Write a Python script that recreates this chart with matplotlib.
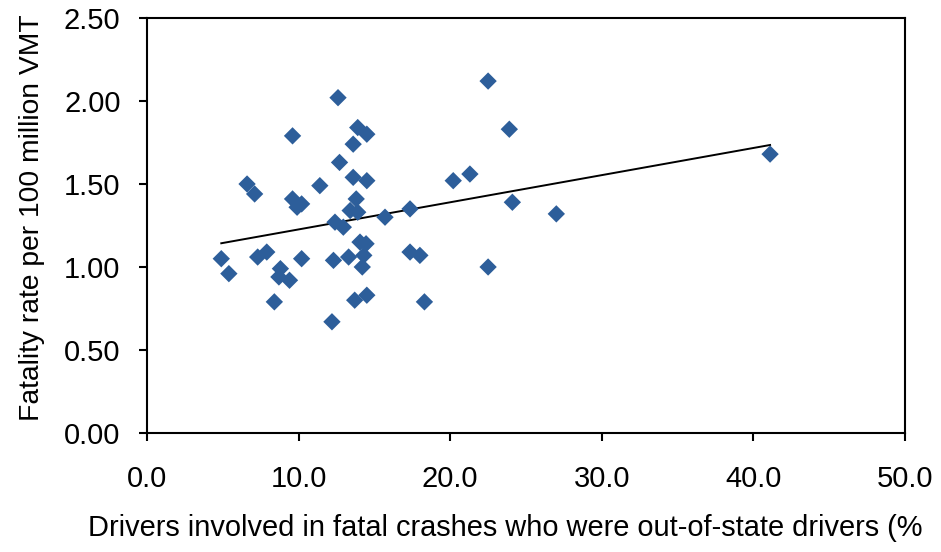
import matplotlib
matplotlib.use("Agg")
import matplotlib.pyplot as plt

# Data
out_of_state_pct = [4.9, 5.4, 6.6, 7.1, 7.3, 7.9, 8.4, 8.7, 8.8, 9.4,
                    9.6, 9.6, 9.9, 10.2, 10.2, 11.4, 12.2, 12.3, 12.4, 12.6,
                    12.7, 12.95, 13.3, 13.4, 13.6, 13.6, 13.7, 13.8, 13.9, 13.9,
                    14.05, 14.2, 14.3, 14.45, 14.5, 14.5, 14.5, 15.7, 17.35, 17.35,
                    18.0, 18.3, 20.2, 21.3, 22.5, 22.5, 23.9, 24.1, 27.0, 41.1]
fatality_rate = [1.05, 0.96, 1.50, 1.44, 1.06, 1.09, 0.79, 0.94, 0.99, 0.92,
                 1.79, 1.41, 1.36, 1.38, 1.05, 1.49, 0.67, 1.04, 1.27, 2.02,
                 1.63, 1.24, 1.06, 1.34, 1.74, 1.54, 0.80, 1.41, 1.33, 1.84,
                 1.15, 1.00, 1.07, 1.14, 1.80, 1.52, 0.83, 1.30, 1.35, 1.09,
                 1.07, 0.79, 1.52, 1.56, 2.12, 1.00, 1.83, 1.39, 1.32, 1.68]
trend_x = [4.9, 41.1]
trend_y = [1.143, 1.735]

x_ticks = [0, 10, 20, 30, 40, 50]
y_ticks = [0.0, 0.5, 1.0, 1.5, 2.0, 2.5]

plt.rcParams['font.family'] = ['Liberation Sans', 'DejaVu Sans']

W, H = 941, 552
fig = plt.figure(figsize=(W / 100, H / 100), dpi=100)
ax = fig.add_axes([147 / W, 1 - 433 / H, (905 - 147) / W, (433 - 18) / H])

ax.plot(trend_x, trend_y, color='black', lw=1.4, zorder=2)
ax.scatter(out_of_state_pct, fatality_rate, marker='D', s=78,
           color='#2D5E9A', edgecolors='none', zorder=3)

ax.set_xlim(0, 50)
ax.set_ylim(0, 2.5)
ax.set_xticks(x_ticks)
ax.set_xticklabels([f"{v:.1f}" for v in x_ticks])
ax.set_yticks(y_ticks)
ax.set_yticklabels([f"{v:.2f}" for v in y_ticks])

for s in ax.spines.values():
    s.set_linewidth(1.5)
    s.set_color('black')

ax.tick_params(axis='both', direction='out', length=6, width=1.5,
               labelsize=21, colors='black')
ax.tick_params(axis='y', pad=13)
ax.tick_params(axis='x', pad=17)

ax.set_ylabel("Fatality rate per 100 million VMT", fontsize=20.3)
ax.set_xlabel("Drivers involved in fatal crashes who were out-of-state drivers (%",
              fontsize=20.9, loc='left')
ax.xaxis.set_label_coords((88 - 147) / (905 - 147), -(528 - 433) / (433 - 18))
ax.xaxis.label.set_va('center')
ax.yaxis.set_label_coords(-(147 - 32) / (905 - 147), 0.52)
ax.yaxis.label.set_va('center')

fig.savefig("out.png", dpi=100)
